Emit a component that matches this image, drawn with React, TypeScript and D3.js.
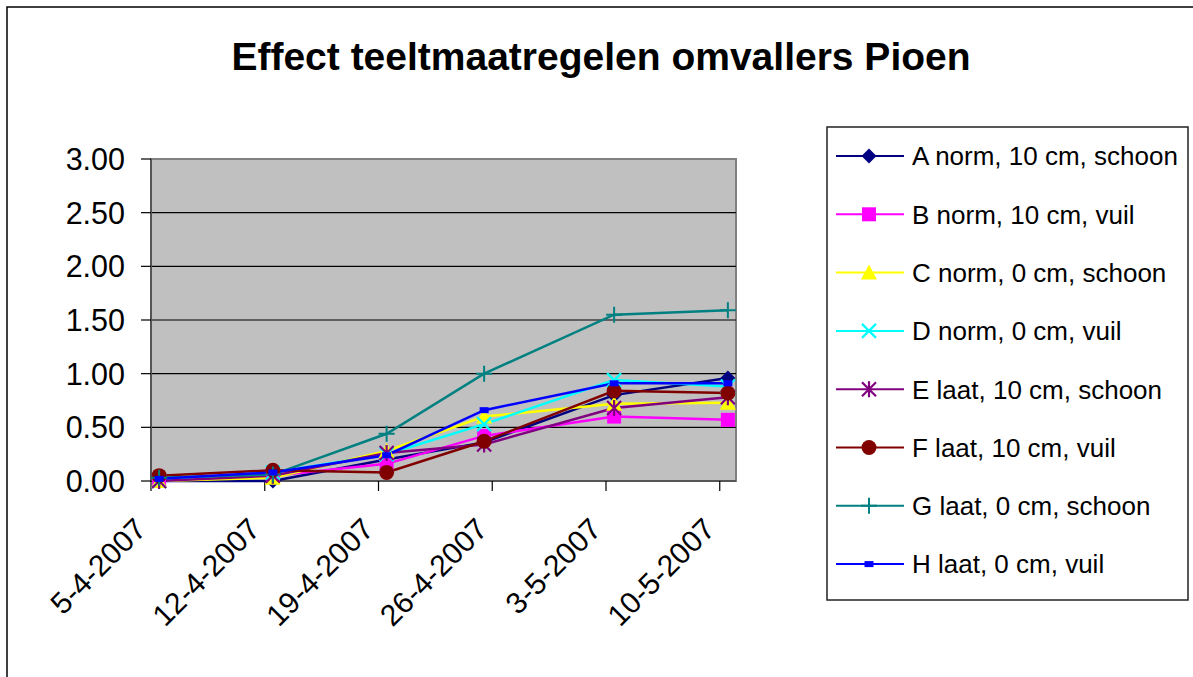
import React from "react";
import * as d3 from "d3";

const title = "Effect teeltmaatregelen omvallers Pioen";
const sampleDates = ["2007-04-05", "2007-04-12", "2007-04-19", "2007-04-25", "2007-05-03", "2007-05-10"];
const tickDates = ["2007-04-05", "2007-04-12", "2007-04-19", "2007-04-26", "2007-05-03", "2007-05-10"];
const axisStart = "2007-04-05";
const axisEnd = "2007-05-11";
const yTicks = [0, 0.5, 1, 1.5, 2, 2.5, 3];

const seriesNames = [
  "A norm, 10 cm, schoon",
  "B norm, 10 cm, vuil",
  "C norm, 0 cm, schoon",
  "D norm, 0 cm, vuil",
  "E laat, 10 cm, schoon",
  "F laat, 10 cm, vuil",
  "G laat, 0 cm, schoon",
  "H laat, 0 cm, vuil",
];
const seriesColors = ["#000080", "#FF00FF", "#FFFF00", "#00FFFF", "#800080", "#800000", "#008080", "#0000FF"];
const seriesMarkers = ["diamond", "square", "triangle", "x", "star", "circle", "plus", "dash"];

const valuesA = [0, 0, 0.2, 0.36, 0.8, 0.96];
const valuesB = [0, 0.05, 0.16, 0.42, 0.6, 0.57];
const valuesC = [0, 0.03, 0.28, 0.6, 0.72, 0.73];
const valuesD = [0, 0.08, 0.25, 0.53, 0.94, 0.88];
const valuesE = [0, 0.05, 0.26, 0.34, 0.68, 0.78];
const valuesF = [0.05, 0.1, 0.08, 0.37, 0.84, 0.82];
const valuesG = [0.03, 0.06, 0.44, 1.0, 1.55, 1.59];
const valuesH = [0.02, 0.08, 0.24, 0.66, 0.91, 0.91];
const allValues = [valuesA, valuesB, valuesC, valuesD, valuesE, valuesF, valuesG, valuesH];

const W = 1193;
const H = 677;
const plot = { left: 151, right: 736, top: 159, bottom: 481 };
const FONT = "'Liberation Sans', Arial, sans-serif";

const parse = (s: string) => new Date(s + "T00:00:00Z");
const fmt = d3.utcFormat("%-d-%-m-%Y");

function Marker({ type, x, y, color }: { type: string; x: number; y: number; color: string }) {
  const s = 7.5;
  switch (type) {
    case "diamond":
      return <path d={`M${x},${y - s}L${x + s},${y}L${x},${y + s}L${x - s},${y}Z`} fill={color} />;
    case "square":
      return <rect x={x - 7} y={y - 7} width={14} height={14} fill={color} />;
    case "triangle":
      return <path d={`M${x},${y - 8}L${x + 8},${y + 7}L${x - 8},${y + 7}Z`} fill={color} />;
    case "x":
      return (
        <path d={`M${x - 7},${y - 7}L${x + 7},${y + 7}M${x + 7},${y - 7}L${x - 7},${y + 7}`} stroke={color} strokeWidth={2.2} />
      );
    case "star":
      return (
        <path
          d={`M${x - 7},${y - 7}L${x + 7},${y + 7}M${x + 7},${y - 7}L${x - 7},${y + 7}M${x},${y - 8}L${x},${y + 8}`}
          stroke={color}
          strokeWidth={2.2}
        />
      );
    case "circle":
      return <circle cx={x} cy={y} r={7.5} fill={color} />;
    case "plus":
      return <path d={`M${x - 8},${y}L${x + 8},${y}M${x},${y - 8}L${x},${y + 8}`} stroke={color} strokeWidth={2} />;
    case "dash":
      return <rect x={x - 4.5} y={y - 3} width={9} height={6} fill={color} />;
    default:
      return null;
  }
}

export default function App() {
  const x = d3.scaleUtc().domain([parse(axisStart), parse(axisEnd)]).range([plot.left, plot.right]);
  const y = d3.scaleLinear().domain([0, 3]).range([plot.bottom, plot.top]);
  const half = 12 * 3600 * 1000;
  const pointX = sampleDates.map((d) => x(new Date(parse(d).getTime() + half)));

  const line = d3
    .line<number>()
    .x((_, i) => pointX[i])
    .y((v) => y(v));

  const legend = { x: 827, y: 127, w: 361, h: 473, rowStart: 156, rowStep: 58.3 };

  return (
    <svg
      width={W}
      height={H}
      style={{ position: "absolute", left: 0, top: 0, background: "#fff" }}
      fontFamily={FONT}
    >
      <rect x={7} y={7} width={W + 20} height={H + 20} fill="#fff" stroke="#000" strokeWidth={1.5} />
      <text x={601} y={70} textAnchor="middle" fontSize={39} fontWeight="bold" fill="#000">
        {title}
      </text>

      {/* plot area */}
      <rect
        x={plot.left}
        y={plot.top}
        width={plot.right - plot.left}
        height={plot.bottom - plot.top}
        fill="#C0C0C0"
        stroke="#808080"
        strokeWidth={2}
      />
      {yTicks
        .filter((t) => t > 0 && t < 3)
        .map((t) => (
          <line key={t} x1={plot.left} x2={plot.right} y1={y(t)} y2={y(t)} stroke="#000" strokeWidth={1.2} />
        ))}

      {/* axes */}
      <line x1={plot.left} x2={plot.left} y1={plot.top} y2={plot.bottom} stroke="#555" strokeWidth={2} />
      <line x1={plot.left} x2={plot.right} y1={plot.bottom} y2={plot.bottom} stroke="#555" strokeWidth={2} />
      {yTicks.map((t) => (
        <g key={t}>
          <line x1={plot.left - 10} x2={plot.left} y1={y(t)} y2={y(t)} stroke="#000" strokeWidth={1.2} />
          <text x={125} y={y(t)} dy="0.36em" textAnchor="end" fontSize={30.5} fill="#000">
            {t.toFixed(2)}
          </text>
        </g>
      ))}
      {tickDates.map((d) => {
        const tx = x(parse(d));
        return (
          <g key={d}>
            <line x1={tx} x2={tx} y1={plot.bottom} y2={plot.bottom + 10} stroke="#000" strokeWidth={1.2} />
            <text
              transform={`translate(${tx - 3},${plot.bottom + 50}) rotate(-45)`}
              textAnchor="end"
              fontSize={30}
              fill="#000"
            >
              {fmt(parse(d))}
            </text>
          </g>
        );
      })}

      {/* series */}
      {allValues.map((vals, si) => (
        <path key={si} d={line(vals) || ""} fill="none" stroke={seriesColors[si]} strokeWidth={2.5} />
      ))}
      {allValues.map((vals, si) => (
        <g key={"m" + si}>
          {vals.map((v, i) => (
            <Marker key={i} type={seriesMarkers[si]} x={pointX[i]} y={y(v)} color={seriesColors[si]} />
          ))}
        </g>
      ))}

      {/* legend */}
      <rect x={legend.x} y={legend.y} width={legend.w} height={legend.h} fill="#fff" stroke="#222" strokeWidth={1.5} />
      {seriesNames.map((name, i) => {
        const cy = legend.rowStart + i * legend.rowStep;
        return (
          <g key={name}>
            <line x1={836} x2={904} y1={cy} y2={cy} stroke={seriesColors[i]} strokeWidth={2} />
            <Marker type={seriesMarkers[i]} x={869} y={cy} color={seriesColors[i]} />
            <text x={912} y={cy} dy="0.36em" fontSize={26} fill="#000">
              {name}
            </text>
          </g>
        );
      })}
    </svg>
  );
}
